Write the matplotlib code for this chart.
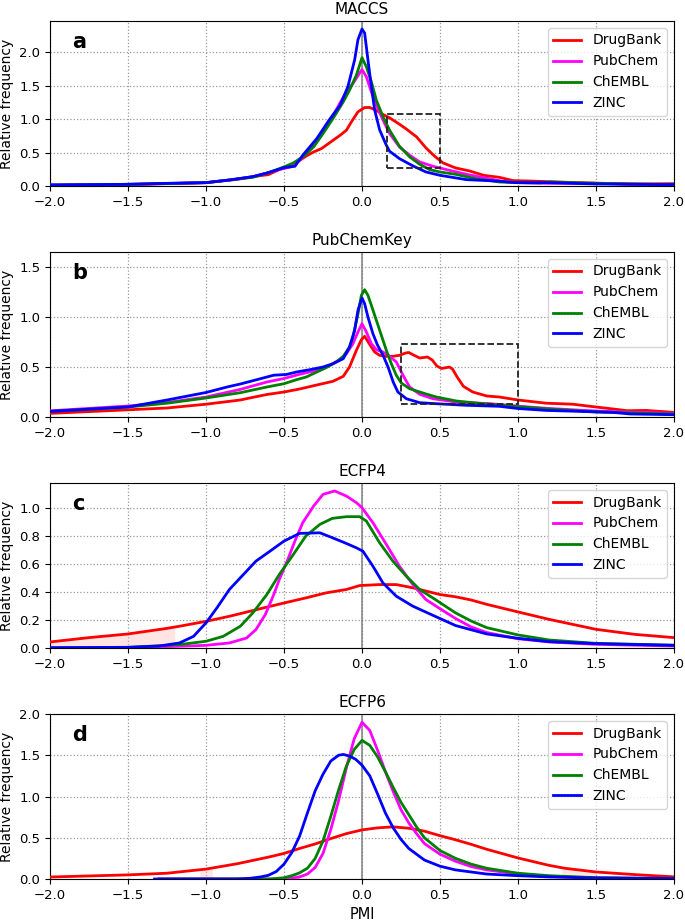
import matplotlib
matplotlib.use("Agg")
import matplotlib.pyplot as plt
from matplotlib.patches import Rectangle
import numpy as np

plt.rcParams['font.family'] = ['DejaVu Sans']

series_names = ["DrugBank", "PubChem", "ChEMBL", "ZINC"]
series_colors = ["red", "magenta", "green", "blue"]
panel_titles = ["MACCS", "PubChemKey", "ECFP4", "ECFP6"]
panel_letters = ["a", "b", "c", "d"]

# ---------------- Panel a: MACCS ----------------
a_drugbank_x = [-2.0, -1.5, -1.0, -0.8, -0.7, -0.6, -0.5, -0.43, -0.36, -0.31, -0.26, -0.2, -0.14, -0.1, -0.068,
                -0.026, 0.017, 0.05, 0.09, 0.135, 0.177, 0.24, 0.28, 0.35, 0.41, 0.466, 0.52, 0.6, 0.69, 0.78,
                0.88, 0.97, 1.07, 1.18, 1.39, 1.72, 2.0]
a_drugbank_y = [0.01, 0.02, 0.05, 0.1, 0.14, 0.17, 0.28, 0.335, 0.445, 0.51, 0.56, 0.66, 0.76, 0.835, 0.96,
                1.11, 1.175, 1.175, 1.135, 1.07, 1.02, 0.925, 0.86, 0.735, 0.57, 0.445, 0.345, 0.27, 0.225, 0.16,
                0.13, 0.08, 0.075, 0.066, 0.05, 0.03, 0.035]
a_pubchem_x = [-2.0, -1.5, -1.0, -0.85, -0.7, -0.6, -0.53, -0.46, -0.4, -0.335, -0.27, -0.207, -0.143, -0.1,
               -0.058, 0.0, 0.028, 0.06, 0.092, 0.135, 0.177, 0.24, 0.306, 0.37, 0.455, 0.56, 0.67, 0.78, 0.9,
               1.0, 1.2, 1.5, 1.7, 2.0]
a_pubchem_y = [0.015, 0.025, 0.05, 0.09, 0.14, 0.2, 0.245, 0.285, 0.385, 0.535, 0.735, 0.96, 1.235, 1.41,
               1.535, 1.745, 1.635, 1.41, 1.21, 0.985, 0.785, 0.585, 0.46, 0.36, 0.295, 0.235, 0.175, 0.125, 0.07,
               0.05, 0.04, 0.04, 0.03, 0.02]
a_chembl_x = [-2.0, -1.5, -1.0, -0.85, -0.7, -0.6, -0.5, -0.44, -0.38, -0.31, -0.25, -0.186, -0.12, -0.08,
              -0.036, 0.0, 0.028, 0.06, 0.092, 0.135, 0.177, 0.24, 0.306, 0.37, 0.434, 0.5, 0.6, 0.73, 0.88, 1.0,
              1.14, 1.2, 1.5, 2.0]
a_chembl_y = [0.015, 0.025, 0.05, 0.09, 0.13, 0.2, 0.285, 0.345, 0.435, 0.585, 0.785, 1.01, 1.26, 1.435,
              1.66, 1.92, 1.785, 1.56, 1.285, 1.035, 0.835, 0.595, 0.435, 0.325, 0.245, 0.21, 0.175, 0.11, 0.06,
              0.05, 0.045, 0.06, 0.04, 0.02]
a_zinc_x = [-2.0, -1.5, -1.25, -1.0, -0.85, -0.7, -0.6, -0.5, -0.43, -0.38, -0.29, -0.21, -0.14, -0.09, -0.047,
            -0.026, 0.0, 0.017, 0.038, 0.06, 0.081, 0.113, 0.156, 0.177, 0.24, 0.327, 0.41, 0.5, 0.67, 0.86, 0.99,
            1.2, 1.5, 2.0]
a_zinc_y = [0.015, 0.025, 0.04, 0.05, 0.09, 0.14, 0.2, 0.275, 0.295, 0.46, 0.71, 0.99, 1.21, 1.49, 1.89,
            2.19, 2.35, 2.29, 1.89, 1.49, 1.14, 0.84, 0.61, 0.52, 0.41, 0.30, 0.21, 0.16, 0.095, 0.075, 0.05,
            0.05, 0.03, 0.02]

# ---------------- Panel b: PubChemKey ----------------
b_drugbank_x = [-2.0, -1.5, -1.25, -1.0, -0.78, -0.72, -0.61, -0.5, -0.4, -0.29, -0.186, -0.12, -0.08, -0.036,
                -0.004, 0.017, 0.049, 0.081, 0.113, 0.156, 0.2, 0.24, 0.28, 0.3, 0.33, 0.37, 0.42, 0.45, 0.48,
                0.51, 0.56, 0.58, 0.61, 0.65, 0.71, 0.8, 0.88, 1.0, 1.18, 1.35, 1.5, 1.61, 1.7, 1.82, 2.0]
b_drugbank_y = [0.036, 0.072, 0.09, 0.128, 0.17, 0.19, 0.225, 0.25, 0.28, 0.32, 0.357, 0.407, 0.5, 0.667,
                0.773, 0.807, 0.727, 0.65, 0.617, 0.607, 0.607, 0.617, 0.64, 0.645, 0.62, 0.59, 0.6, 0.57, 0.51,
                0.485, 0.5, 0.48, 0.4, 0.307, 0.25, 0.21, 0.2, 0.17, 0.138, 0.128, 0.1, 0.08, 0.063, 0.066, 0.046]
b_pubchem_x = [-2.0, -1.5, -1.25, -1.0, -0.78, -0.61, -0.5, -0.4, -0.29, -0.207, -0.143, -0.1, -0.058, -0.026,
               0.0, 0.028, 0.06, 0.092, 0.135, 0.177, 0.22, 0.263, 0.305, 0.37, 0.455, 0.6, 0.82, 1.07, 1.2, 1.5,
               2.0]
b_pubchem_y = [0.062, 0.11, 0.145, 0.2, 0.276, 0.35, 0.385, 0.427, 0.467, 0.517, 0.573, 0.633, 0.733, 0.85,
               0.933, 0.85, 0.733, 0.673, 0.65, 0.607, 0.55, 0.417, 0.3, 0.227, 0.183, 0.15, 0.133, 0.1, 0.085,
               0.06, 0.035]
b_chembl_x = [-2.0, -1.5, -1.25, -1.0, -0.78, -0.61, -0.5, -0.42, -0.357, -0.29, -0.23, -0.165, -0.12, -0.08,
              -0.058, -0.026, -0.004, 0.017, 0.038, 0.06, 0.092, 0.124, 0.156, 0.188, 0.22, 0.252, 0.305, 0.39,
              0.476, 0.605, 0.776, 0.99, 1.2, 1.5, 2.0]
b_chembl_y = [0.056, 0.1, 0.138, 0.19, 0.243, 0.3, 0.333, 0.373, 0.4, 0.45, 0.493, 0.55, 0.607, 0.7, 0.8,
              1.03, 1.217, 1.273, 1.217, 1.117, 0.967, 0.817, 0.667, 0.533, 0.417, 0.34, 0.283, 0.24, 0.2, 0.16,
              0.133, 0.105, 0.08, 0.05, 0.03]
b_zinc_x = [-2.0, -1.5, -1.25, -1.0, -0.865, -0.78, -0.67, -0.566, -0.485, -0.42, -0.335, -0.25, -0.186, -0.12,
            -0.08, -0.047, -0.026, 0.0, 0.017, 0.038, 0.07, 0.1, 0.135, 0.167, 0.2, 0.23, 0.284, 0.37, 0.476, 0.67,
            0.88, 1.0, 1.18, 1.4, 1.61, 1.72, 2.0]
b_zinc_y = [0.056, 0.1, 0.17, 0.245, 0.3, 0.33, 0.375, 0.418, 0.425, 0.45, 0.473, 0.5, 0.533, 0.583, 0.7,
            0.867, 1.067, 1.19, 1.133, 1.0, 0.833, 0.717, 0.617, 0.5, 0.35, 0.25, 0.183, 0.143, 0.133, 0.117,
            0.107, 0.085, 0.066, 0.056, 0.046, 0.03, 0.023]

# ---------------- Panel c: ECFP4 ----------------
c_drugbank_x = [-2.0, -1.75, -1.5, -1.25, -1.17, -1.0, -0.85, -0.63, -0.48, -0.36, -0.23, -0.1, -0.015, 0.113,
                0.22, 0.326, 0.5, 0.6, 0.7, 0.8, 1.0, 1.2, 1.5, 1.75, 2.0]
c_drugbank_y = [0.043, 0.074, 0.1, 0.14, 0.155, 0.19, 0.226, 0.286, 0.326, 0.357, 0.393, 0.417, 0.445, 0.452,
                0.452, 0.429, 0.381, 0.365, 0.342, 0.311, 0.257, 0.204, 0.133, 0.097, 0.074]
c_pubchem_x = [-2.0, -1.5, -1.17, -1.0, -0.85, -0.74, -0.68, -0.62, -0.57, -0.53, -0.48, -0.43, -0.38, -0.31,
               -0.25, -0.175, -0.1, -0.036, 0.0, 0.07, 0.156, 0.24, 0.326, 0.41, 0.5, 0.6, 0.7, 0.8, 1.0, 1.2,
               1.5, 2.0]
c_pubchem_y = [0.0, 0.003, 0.012, 0.019, 0.036, 0.071, 0.131, 0.238, 0.369, 0.488, 0.619, 0.762, 0.893, 1.012,
               1.095, 1.119, 1.083, 1.036, 1.0, 0.893, 0.738, 0.583, 0.452, 0.345, 0.28, 0.21, 0.15, 0.11, 0.066,
               0.043, 0.026, 0.014]
c_chembl_x = [-2.0, -1.5, -1.17, -1.0, -0.89, -0.78, -0.7, -0.61, -0.53, -0.44, -0.36, -0.27, -0.19, -0.1,
              -0.015, 0.028, 0.113, 0.198, 0.284, 0.369, 0.454, 0.6, 0.7, 0.8, 1.0, 1.2, 1.5, 2.0]
c_chembl_y = [0.0, 0.004, 0.024, 0.048, 0.083, 0.155, 0.25, 0.381, 0.524, 0.667, 0.798, 0.881, 0.924, 0.936,
              0.936, 0.905, 0.75, 0.619, 0.512, 0.417, 0.357, 0.25, 0.192, 0.145, 0.093, 0.057, 0.033, 0.02]
c_zinc_x = [-2.0, -1.5, -1.3, -1.17, -1.08, -1.0, -0.93, -0.85, -0.76, -0.68, -0.59, -0.5, -0.4, -0.27, -0.19,
            -0.1, -0.036, 0.006, 0.07, 0.134, 0.22, 0.326, 0.5, 0.6, 0.8, 1.0, 1.2, 1.5, 2.0]
c_zinc_y = [0.002, 0.005, 0.014, 0.036, 0.083, 0.179, 0.286, 0.417, 0.524, 0.619, 0.69, 0.762, 0.817, 0.821,
            0.786, 0.745, 0.714, 0.69, 0.583, 0.464, 0.369, 0.298, 0.21, 0.16, 0.1, 0.069, 0.045, 0.031, 0.019]
c_shade_x = [-2.0, -1.2]

# ---------------- Panel d: ECFP6 ----------------
d_drugbank_x = [-2.0, -1.5, -1.25, -1.0, -0.8, -0.6, -0.5, -0.4, -0.3, -0.2, -0.1, 0.0, 0.1, 0.2, 0.3, 0.4,
                0.5, 0.6, 0.7, 0.8, 1.0, 1.2, 1.3, 1.5, 1.75, 2.0]
d_drugbank_y = [0.024, 0.05, 0.07, 0.12, 0.185, 0.265, 0.31, 0.37, 0.425, 0.49, 0.55, 0.595, 0.62, 0.632, 0.615,
                0.58, 0.525, 0.475, 0.42, 0.36, 0.255, 0.165, 0.13, 0.085, 0.053, 0.026]
d_pubchem_x = [-1.3, -0.53, -0.45, -0.4, -0.35, -0.3, -0.25, -0.2, -0.15, -0.1, -0.05, 0.0, 0.05, 0.1, 0.15,
               0.2, 0.25, 0.3, 0.35, 0.4, 0.5, 0.6, 0.7, 0.8, 1.0, 1.2, 1.5, 2.0]
d_pubchem_y = [0.0, 0.0, 0.01, 0.025, 0.06, 0.14, 0.31, 0.6, 0.95, 1.35, 1.7, 1.9, 1.8, 1.56, 1.3, 1.06, 0.84,
               0.68, 0.55, 0.43, 0.3, 0.215, 0.15, 0.11, 0.06, 0.032, 0.012, 0.005]
d_chembl_x = [-1.3, -0.59, -0.5, -0.45, -0.4, -0.35, -0.3, -0.25, -0.2, -0.15, -0.1, -0.05, 0.0, 0.05, 0.1, 0.15,
              0.2, 0.25, 0.3, 0.35, 0.4, 0.5, 0.6, 0.7, 0.8, 1.0, 1.2, 1.5, 2.0]
d_chembl_y = [0.0, 0.0, 0.015, 0.04, 0.075, 0.13, 0.25, 0.46, 0.76, 1.08, 1.37, 1.57, 1.68, 1.62, 1.48, 1.3,
              1.11, 0.93, 0.78, 0.63, 0.5, 0.345, 0.25, 0.18, 0.13, 0.07, 0.04, 0.016, 0.006]
d_zinc_x = [-1.33, -0.8, -0.72, -0.65, -0.6, -0.55, -0.5, -0.45, -0.4, -0.35, -0.3, -0.25, -0.2, -0.15, -0.12,
            -0.08, -0.04, 0.0, 0.05, 0.1, 0.15, 0.2, 0.25, 0.3, 0.4, 0.5, 0.6, 0.8, 1.0, 1.2, 1.5, 2.0]
d_zinc_y = [0.0, 0.0, 0.008, 0.025, 0.045, 0.09, 0.18, 0.32, 0.52, 0.8, 1.07, 1.27, 1.43, 1.5, 1.51, 1.49, 1.45,
            1.38, 1.25, 1.03, 0.8, 0.62, 0.48, 0.37, 0.23, 0.155, 0.11, 0.06, 0.04, 0.025, 0.012, 0.005]
d_shade_ranges = [(-1.04, -0.96), (1.28, 1.5)]
d_shade_low_range = (-0.53, -0.4)

panels = [
    [(a_drugbank_x, a_drugbank_y), (a_pubchem_x, a_pubchem_y), (a_chembl_x, a_chembl_y), (a_zinc_x, a_zinc_y)],
    [(b_drugbank_x, b_drugbank_y), (b_pubchem_x, b_pubchem_y), (b_chembl_x, b_chembl_y), (b_zinc_x, b_zinc_y)],
    [(c_drugbank_x, c_drugbank_y), (c_pubchem_x, c_pubchem_y), (c_chembl_x, c_chembl_y), (c_zinc_x, c_zinc_y)],
    [(d_drugbank_x, d_drugbank_y), (d_pubchem_x, d_pubchem_y), (d_chembl_x, d_chembl_y), (d_zinc_x, d_zinc_y)],
]
ylims = [(0, 2.47), (0, 1.65), (0, 1.176), (0, 2.0)]
yticks = [[0.0, 0.5, 1.0, 1.5, 2.0], [0.0, 0.5, 1.0, 1.5], [0.0, 0.2, 0.4, 0.6, 0.8, 1.0],
          [0.0, 0.5, 1.0, 1.5, 2.0]]
rects = {0: (0.16, 0.27, 0.5, 1.085), 1: (0.25, 0.133, 1.0, 0.725)}

fig = plt.figure(figsize=(6.85, 9.22), dpi=100)
W, H = 685, 922
left_px, right_px = 50, 674
tops = [21, 252, 483, 714]
height_px = 165

for i in range(4):
    top = tops[i]
    ax = fig.add_axes([left_px / W, 1 - (top + height_px) / H, (right_px - left_px) / W, height_px / H])
    ax.grid(True, linestyle=':', color='#999999', linewidth=0.9)
    ax.set_axisbelow(True)
    ax.axvline(0, color='#808080', linewidth=1.1, zorder=1.5)
    for (xs, ys), name, col in zip(panels[i], series_names, series_colors):
        ax.plot(xs, ys, color=col, lw=2, label=name, zorder=3, solid_joinstyle='round')
    if i == 2:
        xs, ys = c_drugbank_x, c_drugbank_y
        xx = np.linspace(c_shade_x[0], c_shade_x[1], 60)
        ax.fill_between(xx, 0, np.interp(xx, xs, ys), color='#ffb3b3', alpha=0.35, lw=0, zorder=1)
    if i == 3:
        for lo, hi in d_shade_ranges:
            xx = np.linspace(lo, hi, 30)
            ax.fill_between(xx, 0, np.interp(xx, d_drugbank_x, d_drugbank_y), color='#ffb3b3', alpha=0.35,
                            lw=0, zorder=1)
        lo, hi = d_shade_low_range
        xx = np.linspace(lo, hi, 30)
        ax.fill_between(xx, 0, np.interp(xx, d_chembl_x, d_chembl_y), color='#e8b8c8', alpha=0.5, lw=0,
                        zorder=1)
    if i in rects:
        x0, y0, x1, y1 = rects[i]
        ax.add_patch(Rectangle((x0, y0), x1 - x0, y1 - y0, fill=False, edgecolor='#222222', linestyle='--',
                               linewidth=1.3, zorder=4))
    ax.set_xlim(-2.0, 2.0)
    ax.set_ylim(*ylims[i])
    ax.set_xticks([-2.0, -1.5, -1.0, -0.5, 0.0, 0.5, 1.0, 1.5, 2.0])
    ax.set_xticklabels(["\u22122.0", "\u22121.5", "\u22121.0", "\u22120.5", "0.0", "0.5", "1.0", "1.5", "2.0"])
    ax.set_yticks(yticks[i])
    ax.set_yticklabels([f"{v:.1f}" for v in yticks[i]])
    ax.tick_params(labelsize=9.5, length=3.5)
    ax.set_title(panel_titles[i], fontsize=11, pad=5)
    ax.set_ylabel("Relative frequency", fontsize=10, labelpad=4)
    ax.text(0.035, 0.87, panel_letters[i], transform=ax.transAxes, fontsize=15, fontweight='bold',
            va='center', ha='left', zorder=5)
    leg = ax.legend(loc='upper right', fontsize=10, handlelength=2.0, framealpha=0.8)
    for line in leg.get_lines():
        line.set_linewidth(2)
    if i == 3:
        ax.set_xlabel("PMI", fontsize=10.5)

fig.savefig("out.png", dpi=100)
